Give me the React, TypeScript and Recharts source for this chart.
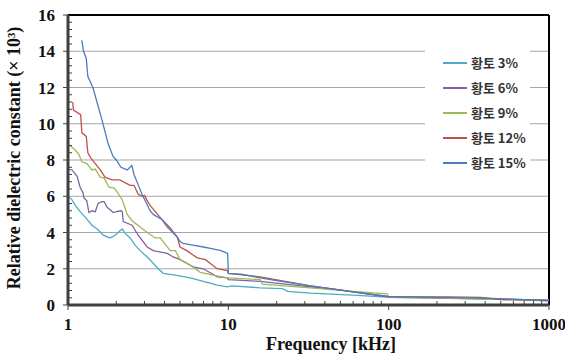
import { LineChart, Line, XAxis, YAxis, CartesianGrid, ReferenceLine, Legend } from "recharts";

const seriesNames = ["황토 3%", "황토 6%", "황토 9%", "황토 12%", "황토 15%"];
const seriesColors = ["#4bacc6", "#8064a2", "#9bbb59", "#c0504d", "#4a7ebb"];

// frequency [kHz] / relative dielectric constant (x10^3)
const freq3 = [1.0, 1.06, 1.11, 1.19, 1.28, 1.41, 1.54, 1.66, 1.83, 1.97, 2.11, 2.18, 2.27, 2.44, 2.62, 2.82, 3.12, 3.4, 3.65, 3.93, 4.67, 5.79, 6.98, 8.54, 9.86, 10.5, 15.8, 21.8, 23.4, 32.5, 60, 103, 200, 400, 1000];
const eps3 = [6.0, 5.8, 5.5, 5.15, 4.85, 4.4, 4.15, 3.85, 3.7, 3.85, 4.1, 4.2, 3.95, 3.7, 3.3, 3.0, 2.65, 2.3, 2.0, 1.75, 1.65, 1.5, 1.3, 1.1, 1.0, 1.05, 0.95, 0.9, 0.75, 0.65, 0.55, 0.42, 0.38, 0.32, 0.28];

const freq6 = [1.0, 1.005, 1.06, 1.14, 1.19, 1.24, 1.26, 1.31, 1.35, 1.41, 1.48, 1.54, 1.63, 1.68, 1.75, 1.83, 1.91, 2.0, 2.14, 2.18, 2.21, 2.51, 2.74, 3.12, 3.4, 4.16, 4.53, 5.01, 6.04, 6.98, 8.54, 9.86, 10.0, 15.8, 32.5, 43.4, 100, 200, 400, 1000];
const eps6 = [9.7, 7.5, 7.45, 7.1, 6.5, 6.2, 5.9, 5.75, 5.1, 5.2, 5.15, 5.6, 5.7, 5.7, 5.4, 5.25, 5.1, 5.15, 5.2, 5.15, 4.6, 4.4, 3.85, 3.2, 3.0, 2.85, 2.65, 2.5, 2.1, 2.0, 1.55, 1.5, 1.4, 1.3, 1.0, 0.9, 0.45, 0.4, 0.35, 0.25];

const freq9 = [1.0, 1.03, 1.06, 1.11, 1.17, 1.22, 1.31, 1.41, 1.48, 1.59, 1.68, 1.8, 1.94, 2.02, 2.11, 2.18, 2.34, 2.51, 2.82, 3.12, 3.5, 3.76, 4.34, 4.67, 5.01, 5.79, 6.68, 8.06, 9.86, 10.0, 15.8, 16.3, 32.5, 60, 98, 100, 200, 400, 1000];
const eps9 = [8.8, 8.8, 8.7, 8.55, 8.3, 7.9, 7.8, 7.45, 7.5, 7.05, 7.0, 6.5, 6.45, 6.25, 6.0, 5.8, 5.0, 4.65, 4.3, 4.0, 3.7, 3.7, 3.0, 3.0, 2.5, 2.2, 1.8, 1.65, 1.5, 1.5, 1.4, 1.15, 0.95, 0.75, 0.62, 0.42, 0.4, 0.32, 0.25];

const freq12 = [1.07, 1.08, 1.2, 1.22, 1.3, 1.33, 1.39, 1.48, 1.59, 1.7, 1.88, 2.1, 2.44, 2.58, 2.75, 2.9, 3.0, 3.1, 3.25, 3.87, 4.34, 4.8, 5.0, 5.5, 6.4, 7.2, 8.5, 9.9, 10.0, 15.8, 32.5, 60, 100, 234, 376, 500, 1000];
const eps12 = [11.2, 10.75, 10.5, 9.5, 9.3, 8.4, 8.1, 7.8, 7.45, 7.05, 6.9, 6.9, 6.6, 6.6, 6.1, 6.0, 6.05, 5.8, 5.5, 4.7, 4.25, 3.75, 3.2, 3.0, 2.6, 2.5, 2.0, 1.9, 1.75, 1.55, 1.05, 0.72, 0.45, 0.45, 0.42, 0.3, 0.25];

const freq15 = [1.22, 1.25, 1.3, 1.33, 1.43, 1.63, 1.78, 1.91, 2.0, 2.14, 2.34, 2.5, 2.58, 2.75, 2.9, 3.25, 3.4, 3.87, 4.16, 4.8, 5.0, 5.23, 6.0, 7.0, 8.0, 9.0, 9.9, 10.0, 12, 15.8, 20, 32.5, 60, 100, 200, 400, 700, 1000];
const eps15 = [14.6, 14.0, 13.6, 12.6, 12.0, 10.2, 8.9, 8.2, 8.0, 7.6, 7.45, 7.7, 7.2, 6.6, 6.1, 5.2, 5.0, 4.7, 4.3, 3.75, 3.5, 3.4, 3.3, 3.2, 3.1, 3.0, 2.85, 1.75, 1.7, 1.5, 1.35, 1.05, 0.72, 0.47, 0.42, 0.38, 0.3, 0.22];

const xMajorTicks = [1, 10, 100, 1000];
const yMajorTicks = [0, 2, 4, 6, 8, 10, 12, 14, 16];
const yGridValues = [2, 4, 6, 8, 10, 12, 14];

const xMinorTicks = [1, 10, 100].flatMap((d) => [2, 3, 4, 5, 6, 7, 8, 9].map((m) => m * d));
const xAllTicks = [...xMajorTicks, ...xMinorTicks].sort((a, b) => a - b);
const yAllTicks = Array.from({ length: 41 }, (_, i) => (i * 4) / 10);

const toPoints = (f: number[], v: number[]) => f.map((x, i) => ({ f: x, v: v[i] }));
const series = [
  toPoints(freq3, eps3),
  toPoints(freq6, eps6),
  toPoints(freq9, eps9),
  toPoints(freq12, eps12),
  toPoints(freq15, eps15),
];

const serif = "'Liberation Serif', 'Times New Roman', serif";
const tickFont = { fontFamily: serif, fontWeight: 700, fontSize: 17, fill: "#111" };
const axisColor = "#404040";

const XTick = (props: any) => {
  const { x, y, payload } = props;
  const major = xMajorTicks.includes(payload.value);
  return (
    <g>
      <line x1={x} x2={x} y1={y} y2={major ? y + 5 : y - 4} stroke={axisColor} strokeWidth={1} />
      {major && (
        <text x={x} y={y + 25} textAnchor="middle" style={tickFont}>
          {payload.value}
        </text>
      )}
    </g>
  );
};

const YTick = (props: any) => {
  const { x, y, payload } = props;
  const major = yMajorTicks.includes(payload.value);
  return (
    <g>
      <line x1={major ? x - 5 : x} x2={major ? x : x + 4} y1={y} y2={y} stroke={axisColor} strokeWidth={1} />
      {major && (
        <text x={x - 13} y={y + 6} textAnchor="end" style={tickFont}>
          {payload.value}
        </text>
      )}
    </g>
  );
};

const XTitle = () => (
  <text x={331} y={350} textAnchor="middle" style={{ fontFamily: serif, fontWeight: 700, fontSize: 18, fill: "#111" }}>
    Frequency [kHz]
  </text>
);

const YTitle = () => (
  <text
    x={20}
    y={158}
    textAnchor="middle"
    transform="rotate(-90 20 158)"
    style={{ fontFamily: serif, fontWeight: 700, fontSize: 18, fill: "#111" }}
  >
    Relative dielectric constant (× 10³)
  </text>
);

const LegendBox = () => (
  <div style={{ background: "#fff", width: 105, height: 130, paddingTop: 5, boxSizing: "border-box" }}>
    {seriesNames.map((name, i) => (
      <div key={name} style={{ display: "flex", alignItems: "center", height: 25 }}>
        <span
          style={{
            display: "inline-block",
            width: 24,
            borderTop: `2px solid ${seriesColors[i]}`,
            marginLeft: 18,
            marginRight: 4,
          }}
        />
        <span style={{ fontFamily: "'Noto Sans CJK KR', sans-serif", fontWeight: 700, fontSize: 13, color: "#333" }}>
          {name}
        </span>
      </div>
    ))}
  </div>
);

export default function App() {
  return (
    <div style={{ position: "absolute", left: 0, top: 0, background: "#fff" }}>
      <LineChart width={565} height={355} margin={{ top: 15, right: 16, left: 0, bottom: 0 }}>
        <CartesianGrid vertical={false} horizontalValues={yGridValues} stroke="#a6a6a6" strokeWidth={1.2} />
        <XAxis
          dataKey="f"
          type="number"
          scale="log"
          domain={[1, 1000]}
          allowDataOverflow
          ticks={xAllTicks}
          interval={0}
          tick={<XTick />}
          tickLine={false}
          tickSize={0}
          tickMargin={0}
          height={50}
          axisLine={{ stroke: axisColor, strokeWidth: 3 }}
          label={<XTitle />}
        />
        <YAxis
          type="number"
          domain={[0, 16]}
          ticks={yAllTicks}
          interval={0}
          tick={<YTick />}
          tickLine={false}
          tickSize={0}
          tickMargin={0}
          width={68}
          axisLine={{ stroke: axisColor, strokeWidth: 3 }}
          label={<YTitle />}
        />
        <ReferenceLine y={16} stroke="#000" strokeWidth={2} />
        <ReferenceLine x={1000} stroke="#000" strokeWidth={2} />
        {series.map((pts, i) => (
          <Line
            key={seriesNames[i]}
            data={pts}
            dataKey="v"
            name={seriesNames[i]}
            stroke={seriesColors[i]}
            strokeWidth={1.3}
            dot={false}
            isAnimationActive={false}
          />
        ))}
        <Legend
          layout="vertical"
          align="center"
          verticalAlign="middle"
          content={<LegendBox />}
          wrapperStyle={{ left: 425, top: 45, width: 105, height: 130 }}
        />
      </LineChart>
    </div>
  );
}
